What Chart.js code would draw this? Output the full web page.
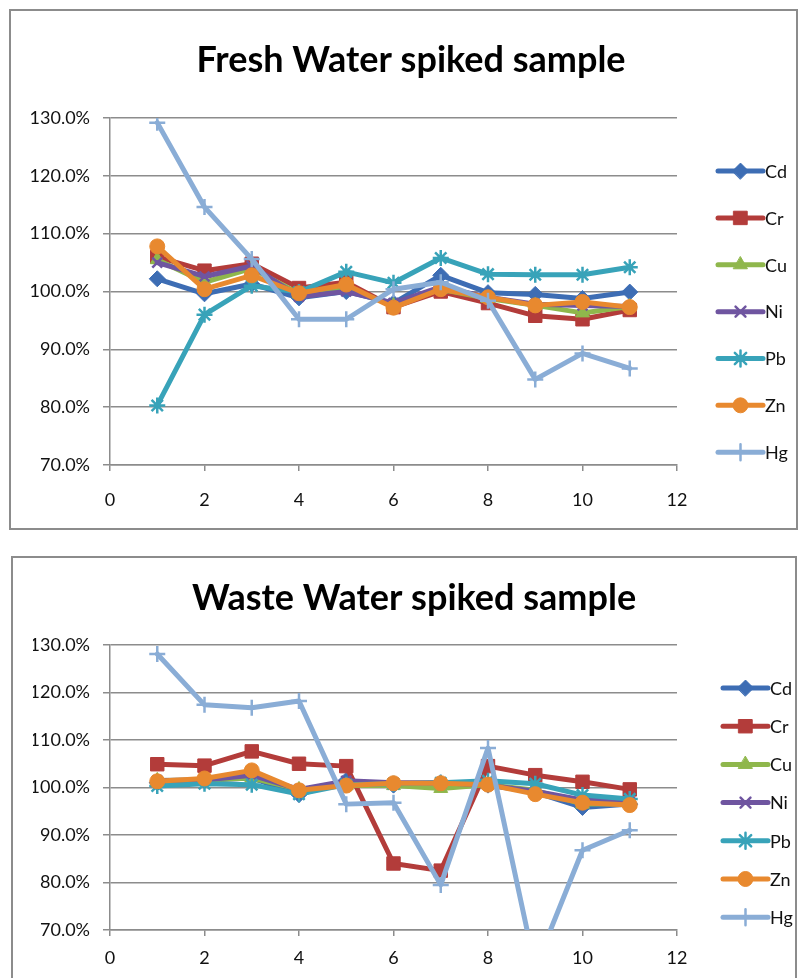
<!DOCTYPE html>
<html>
<head>
<meta charset="utf-8">
<script src="https://cdn.jsdelivr.net/npm/chart.js@4/dist/chart.umd.min.js"></script>
<style>
  html, body { margin: 0; padding: 0; background: #ffffff; }
  body { width: 804px; height: 978px; position: relative; overflow: hidden; }
  .box { position: absolute; border: 2px solid #8c8c8c; background: #fff; }
  #box1 { left: 9px; top: 9px; width: 785px; height: 517px; }
  #box2 { left: 11px; top: 556px; width: 782px; height: 430px; }
  .box canvas { display: block; }
</style>
</head>
<body>
<div class="box" id="box1"><canvas id="c1" width="785" height="517"></canvas></div>
<div class="box" id="box2"><canvas id="c2" width="782" height="430"></canvas></div>
<script>
// ---------- data ----------
const sampleNo = [1, 2, 3, 4, 5, 6, 7, 8, 9, 10, 11];
const metals = ['Cd', 'Cr', 'Cu', 'Ni', 'Pb', 'Zn', 'Hg'];
const yTickValues = [70, 80, 90, 100, 110, 120, 130];
const xTickValues = [0, 2, 4, 6, 8, 10, 12];

const freshTitle = 'Fresh Water spiked sample';
const freshCd = [102.2, 99.6, 101.3, 98.9, 100.0, 98.0, 102.8, 99.8, 99.5, 98.8, 99.9];
const freshCr = [106.0, 103.6, 104.8, 100.6, 101.6, 97.3, 100.0, 98.0, 95.8, 95.2, 96.8];
const freshCu = [105.5, 101.6, 104.0, 99.6, 100.6, 97.6, 100.4, 98.8, 97.6, 96.3, 97.4];
const freshNi = [105.0, 102.6, 104.4, 99.1, 100.0, 98.0, 100.8, 99.0, 97.8, 97.6, 97.4];
const freshPb = [80.3, 96.0, 101.0, 99.9, 103.4, 101.5, 105.8, 103.0, 102.9, 102.9, 104.2];
const freshZn = [107.8, 100.4, 102.8, 99.7, 101.2, 97.2, 100.4, 99.0, 97.6, 98.2, 97.3];
const freshHg = [129.2, 114.6, 105.6, 95.2, 95.2, 100.4, 101.6, 98.4, 84.8, 89.3, 86.7];

const wasteTitle = 'Waste Water spiked sample';
const wasteCd = [101.0, 101.5, 102.0, 98.5, 101.5, 100.5, 101.0, 100.5, 99.0, 95.8, 96.5];
const wasteCr = [104.9, 104.6, 107.6, 105.0, 104.5, 84.0, 82.5, 104.5, 102.6, 101.2, 99.6];
const wasteCu = [101.5, 101.6, 102.0, 99.6, 100.4, 100.4, 99.8, 100.6, 99.4, 96.5, 96.6];
const wasteNi = [101.5, 101.6, 102.6, 99.6, 101.4, 101.0, 101.0, 100.5, 99.2, 97.4, 97.0];
const wastePb = [100.3, 100.8, 100.6, 98.6, 100.6, 100.8, 101.0, 101.4, 100.8, 98.4, 97.6];
const wasteZn = [101.3, 101.9, 103.6, 99.4, 100.4, 100.9, 100.9, 100.6, 98.6, 96.8, 96.3];
const wasteHg = [128.1, 117.4, 116.8, 118.2, 96.5, 96.8, 79.5, 108.3, 62.0, 86.8, 91.0];

// ---------- styles ----------
const colors = ['#3d6db4', '#b33c3a', '#8fb74c', '#6f55a0', '#38a3b9', '#e8892f', '#8aadd6'];
const styles = [
  { pointStyle: 'rectRot', radius: 8, bw: 1 },
  { pointStyle: 'rect', radius: 9.5, bw: 1 },
  { pointStyle: 'triangle', radius: 8, bw: 1 },
  { pointStyle: 'crossRot', radius: 7, bw: 2.5 },
  { pointStyle: 'star', radius: 8, bw: 2.5 },
  { pointStyle: 'circle', radius: 7.5, bw: 1 },
  { pointStyle: 'cross', radius: 8, bw: 2.5 }
];
const FONT = 'Lato, "Open Sans", "DejaVu Sans", sans-serif';
const GRID = '#8c8c8c';

const sideLegend = {
  id: 'sideLegend',
  afterDraw(chart, args, opts) {
    const ctx = chart.ctx;
    const ca = chart.chartArea;
    const h = ca.bottom - ca.top;
    ctx.save();
    chart.data.datasets.forEach((ds, i) => {
      const y = ca.top + opts.top * h + i * opts.step * h;
      const x0 = ca.right + opts.x;
      const x1 = x0 + 45;
      ctx.strokeStyle = ds.borderColor;
      ctx.lineWidth = 5;
      ctx.lineCap = 'round';
      ctx.beginPath();
      ctx.moveTo(x0, y);
      ctx.lineTo(x1, y);
      ctx.stroke();
      const st = styles[i];
      ctx.fillStyle = ds.borderColor;
      ctx.strokeStyle = ds.borderColor;
      ctx.lineWidth = st.bw;
      if (Chart.helpers && Chart.helpers.drawPoint) {
        Chart.helpers.drawPoint(ctx, { pointStyle: st.pointStyle, radius: st.radius, rotation: 0, borderWidth: st.bw }, (x0 + x1) / 2, y);
      }
      ctx.fillStyle = '#111';
      ctx.font = '18px ' + FONT;
      ctx.textAlign = 'left';
      ctx.textBaseline = 'middle';
      ctx.fillText(ds.label, x1 + 2, y + 1);
    });
    ctx.restore();
  }
};

function makeDatasets(series) {
  return series.map((vals, i) => ({
    label: metals[i],
    data: sampleNo.map((x, k) => ({ x: x, y: vals[k] })),
    borderColor: colors[i],
    backgroundColor: colors[i],
    borderWidth: 5,
    borderJoinStyle: 'round',
    borderCapStyle: 'round',
    pointStyle: styles[i].pointStyle,
    pointRadius: styles[i].radius,
    pointBorderWidth: styles[i].bw,
    pointBackgroundColor: colors[i],
    pointBorderColor: colors[i],
    tension: 0,
    order: series.length - i
  }));
}

function makeChart(id, title, series, g) {
  return new Chart(document.getElementById(id), {
    type: 'line',
    data: { datasets: makeDatasets(series) },
    options: {
      responsive: false,
      animation: false,
      events: [],
      layout: { padding: { left: g.padLeft, right: 0, top: 0, bottom: 0 } },
      plugins: {
        legend: { display: false },
        tooltip: { enabled: false },
        title: {
          display: true,
          text: title,
          color: '#000',
          font: { family: FONT, size: 36, weight: 'bold', lineHeight: 1.2 },
          padding: { top: g.titleTop, bottom: g.titleBottom }
        },
        sideLegend: g.legend
      },
      scales: {
        x: {
          type: 'linear',
          min: 0, max: 12,
          afterBuildTicks: (s) => { s.ticks = xTickValues.map(v => ({ value: v })); },
          afterFit: (s) => { s.height = g.xHeight; },
          grid: { display: true, drawOnChartArea: false, drawTicks: true, tickLength: 6, color: GRID, lineWidth: 1.5 },
          border: { display: true, color: GRID, width: 1.5 },
          ticks: { color: '#111', font: { family: FONT, size: 18 }, padding: g.xPad, maxRotation: 0 }
        },
        y: {
          type: 'linear',
          position: 'left',
          min: 70, max: 130,
          afterBuildTicks: (s) => { s.ticks = yTickValues.map(v => ({ value: v })); },
          afterFit: (s) => { s.width = g.yWidth; },
          grid: { display: true, drawOnChartArea: true, drawTicks: true, tickLength: 7, color: GRID, lineWidth: 1.5 },
          border: { display: true, color: GRID, width: 1.5 },
          ticks: { color: '#111', font: { family: FONT, size: 18 }, padding: 13, callback: (v) => Number(v).toFixed(1) + '%' }
        },
        legendSpace: {
          type: 'linear',
          position: 'right',
          display: true,
          min: 0, max: 1,
          afterFit: (s) => { s.width = g.rightSpace; },
          grid: { display: false, drawTicks: false },
          border: { display: false },
          ticks: { display: false }
        }
      }
    },
    plugins: [sideLegend]
  });
}

makeChart('c1', freshTitle, [freshCd, freshCr, freshCu, freshNi, freshPb, freshZn, freshHg], {
  padLeft: 15, rightSpace: 119, titleTop: 27.4, titleBottom: 36.4, xHeight: 63, xPad: 18, yWidth: 84,
  legend: { x: 41, top: 0.153, step: 0.135 }
});
makeChart('c2', wasteTitle, [wasteCd, wasteCr, wasteCu, wasteNi, wastePb, wasteZn, wasteHg], {
  padLeft: 20, rightSpace: 118, titleTop: 18.4, titleBottom: 25.4, xHeight: 58, xPad: 11, yWidth: 77,
  legend: { x: 46, top: 0.151, step: 0.134 }
});
</script>
</body>
</html>
